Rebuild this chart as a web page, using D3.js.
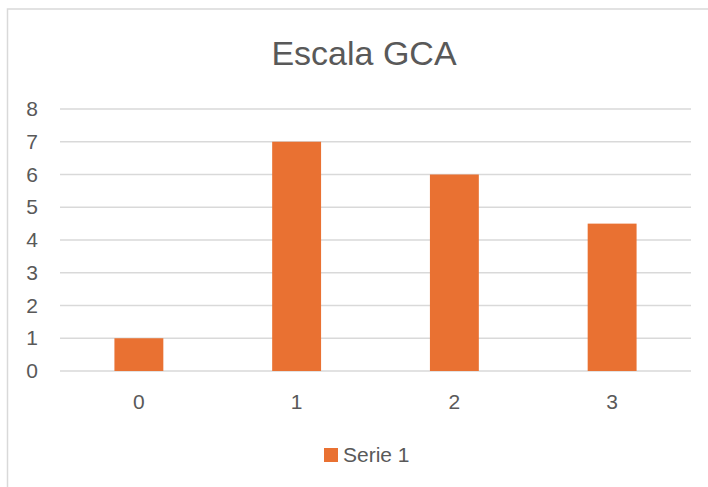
<!DOCTYPE html>
<html>
<head>
<meta charset="utf-8">
<script src="https://cdn.jsdelivr.net/npm/d3@7"></script>
<style>
  body { margin: 0; background: #fff; }
  text { font-family: "Liberation Sans", Arial, sans-serif; fill: #595959; }
</style>
</head>
<body>
<script>
// data
var categories = ["0", "1", "2", "3"];
var values = [1, 7, 6, 4.5];
var yTicks = [0, 1, 2, 3, 4, 5, 6, 7, 8];
var seriesName = "Serie 1";
var title = "Escala GCA";

var width = 708, height = 487;
var plot = { left: 60, right: 691, top: 109, bottom: 371 };

var svg = d3.select("body")
    .append("svg")
    .attr("width", width)
    .attr("height", height);

// chart border
svg.append("rect")
    .attr("x", 7.5).attr("y", 9)
    .attr("width", 740).attr("height", 520)
    .attr("fill", "#fff")
    .attr("stroke", "#d9d9d9")
    .attr("stroke-width", 1.5);

// title
svg.append("text")
    .attr("x", 364).attr("y", 65)
    .attr("text-anchor", "middle")
    .style("font-size", "34px")
    .text(title);

var x = d3.scaleBand()
    .domain(categories)
    .range([plot.left, plot.right])
    .paddingInner(0.69)
    .paddingOuter(0.345);

var y = d3.scaleLinear()
    .domain([0, 8])
    .range([plot.bottom, plot.top]);

// gridlines
svg.append("g")
    .selectAll("line")
    .data(yTicks)
    .enter().append("line")
    .attr("x1", plot.left).attr("x2", plot.right)
    .attr("y1", function (d) { return y(d); })
    .attr("y2", function (d) { return y(d); })
    .attr("stroke", "#d9d9d9")
    .attr("stroke-width", 1.5);

// y axis labels
var yAxis = svg.append("g")
    .attr("transform", "translate(38,0)")
    .call(d3.axisLeft(y).tickValues(yTicks).tickSize(0).tickPadding(0));
yAxis.select(".domain").remove();
yAxis.selectAll("text")
    .style("font-size", "21px")
    .attr("fill", "#595959");

// x axis labels
var xAxis = svg.append("g")
    .attr("transform", "translate(0," + plot.bottom + ")")
    .call(d3.axisBottom(x).tickSize(0).tickPadding(23));
xAxis.select(".domain").remove();
xAxis.selectAll("text")
    .style("font-size", "21px")
    .attr("fill", "#595959");

// bars
svg.append("g")
    .selectAll("rect")
    .data(values)
    .enter().append("rect")
    .attr("x", function (d, i) { return x(categories[i]); })
    .attr("y", function (d) { return y(d); })
    .attr("width", x.bandwidth())
    .attr("height", function (d) { return y(0) - y(d); })
    .attr("fill", "#e97132");

// legend
var legend = svg.append("g");
legend.append("rect")
    .attr("x", 324).attr("y", 448)
    .attr("width", 14).attr("height", 14)
    .attr("fill", "#e97132");
legend.append("text")
    .attr("x", 343).attr("y", 462)
    .style("font-size", "21px")
    .text(seriesName);
</script>
</body>
</html>
